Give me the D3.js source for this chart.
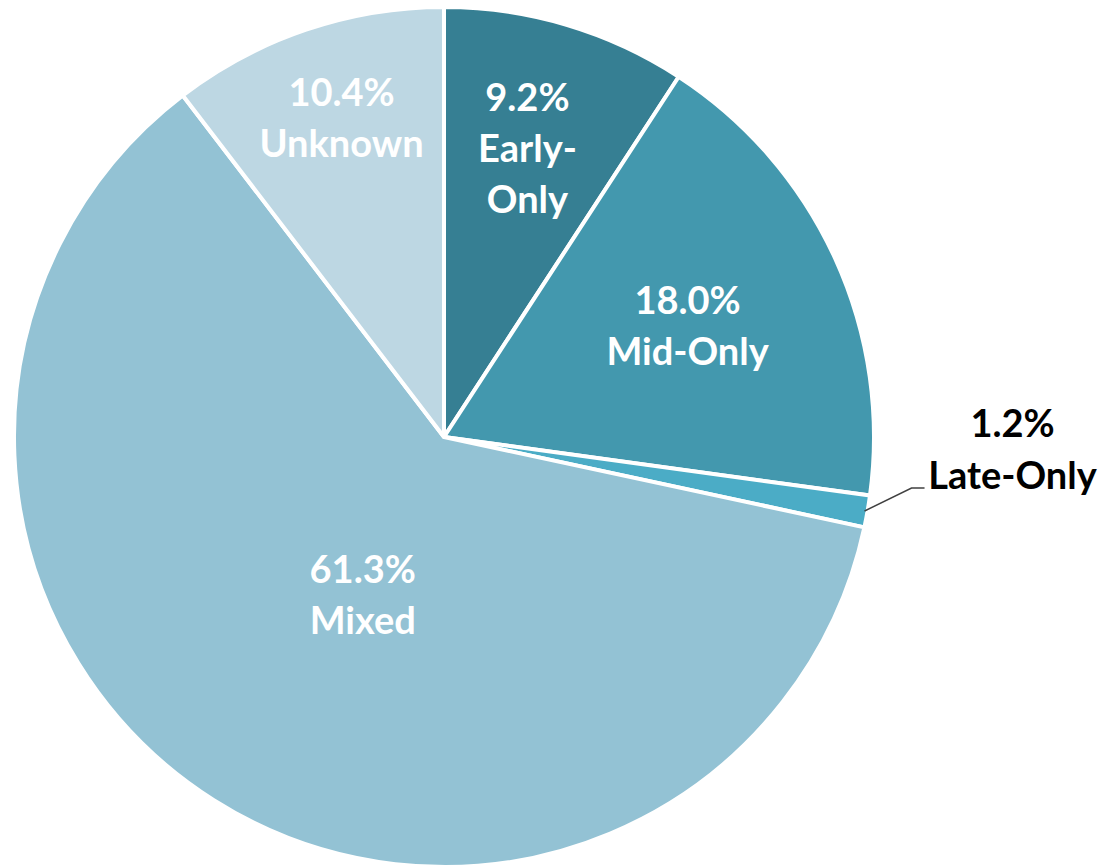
<!DOCTYPE html>
<html><head><meta charset="utf-8">
<script src="https://cdn.jsdelivr.net/npm/d3@7"></script>
<style>body{margin:0;background:#fff;}svg{display:block;}</style>
</head><body>
<svg id="chart" width="1107" height="867"></svg>
<script>
const categories = ["Early-Only", "Mid-Only", "Late-Only", "Mixed", "Unknown"];
const values = [9.2, 18.0, 1.2, 61.3, 10.4];
const valueLabels = ["9.2%", "18.0%", "1.2%", "61.3%", "10.4%"];
const colors = ["#367F93", "#4398AE", "#4BACC6", "#93C2D4", "#BDD7E3"];

const svg = d3.select("#chart");
const cx = 444, cy = 437, R = 430;
const g = svg.append("g").attr("transform", `translate(${cx},${cy})`);
const data = categories.map((c, i) => ({cat: c, v: values[i], lab: valueLabels[i], col: colors[i]}));
const pie = d3.pie().value(d => d.v).sort(null);
const arcs = pie(data);
const arc = d3.arc().innerRadius(0).outerRadius(R);

g.selectAll("path").data(arcs).join("path")
  .attr("d", arc).attr("fill", d => d.data.col)
  .attr("stroke", "#fff").attr("stroke-width", 4).attr("stroke-linejoin", "round");

// label placement (radius, fine offsets, line splits) per slice
const labelR = [300, 270, null, 178, 335];
const nudge = [[-2, 0], [-2, 2], null, [14, 8], [5, -1]];
const lines = [["9.2%", "Early-", "Only"], ["18.0%", "Mid-Only"], null, ["61.3%", "Mixed"], ["10.4%", "Unknown"]];
const lh = 51;
const fs = 38;
const font = "Lato, 'Open Sans', sans-serif";
arcs.forEach((a, i) => {
  if (labelR[i] == null) return;
  const mid = (a.startAngle + a.endAngle) / 2;
  const x = labelR[i] * Math.sin(mid) + nudge[i][0], y = -labelR[i] * Math.cos(mid) + nudge[i][1];
  const ls = lines[i];
  const t = g.append("text").attr("text-anchor", "middle").attr("fill", "#fff")
    .attr("font-family", font).attr("font-weight", 700).attr("font-size", fs);
  ls.forEach((s, k) => {
    t.append("tspan").attr("x", x).attr("y", y + (k - (ls.length - 1) / 2) * lh + 13).text(s);
  });
});

// outside label for Late-Only
const late = arcs[2];
const lm = (late.startAngle + late.endAngle) / 2;
const p0 = [(R - 3) * Math.sin(lm), -(R - 3) * Math.cos(lm)];
const p1 = [p0[0] + 47, p0[1] - 23];
const p2 = [p1[0] + 13, p1[1]];
g.append("polyline").attr("points", [p0, p1, p2].map(p => p.join(",")).join(" "))
  .attr("fill", "none").attr("stroke", "#404040").attr("stroke-width", 1.5);
const lt = g.append("text").attr("text-anchor", "middle").attr("fill", "#000")
  .attr("font-family", font).attr("font-weight", 700).attr("font-size", fs);
[late.data.lab, late.data.cat].forEach((s, k) => {
  lt.append("tspan").attr("x", p2[0] + 88).attr("y", p2[1] - 52 + k * 52 + 1).text(s);
});
</script>
</body></html>
